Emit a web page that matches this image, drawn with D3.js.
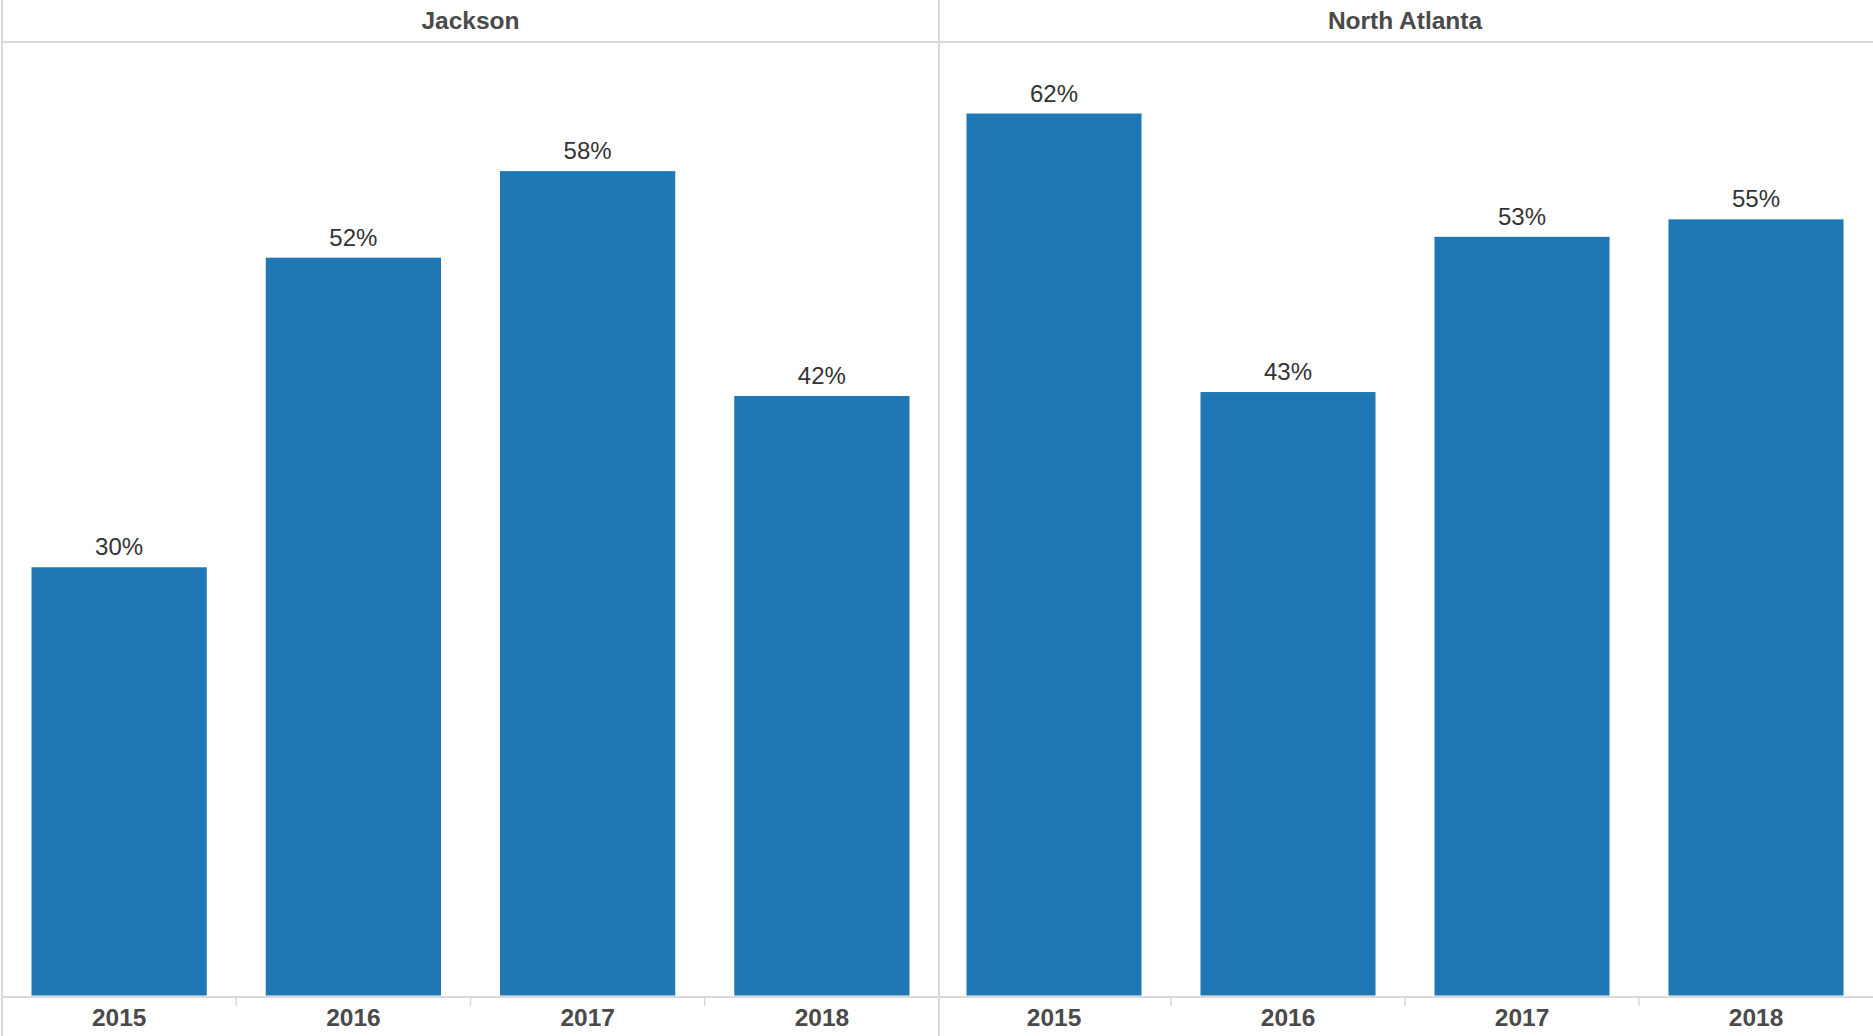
<!DOCTYPE html>
<html>
<head>
<meta charset="utf-8">
<script src="https://cdn.jsdelivr.net/npm/d3@7"></script>
<style>
  html, body { margin: 0; padding: 0; background: #fff; }
  svg { display: block; }
  text { font-family: Arial, "Liberation Sans", sans-serif; }
</style>
</head>
<body>
<svg id="chart" width="1873" height="1036"></svg>
<script>
// ---- data ----
const panes = ["Jackson", "North Atlanta"];
const years = ["2015", "2016", "2017", "2018"];
const jacksonValues = [0.3018, 0.520, 0.581, 0.4225];
const northAtlantaValues = [0.6216, 0.4253, 0.5347, 0.547];
const paneValues = [jacksonValues, northAtlantaValues];
const yMax = 0.672;

// ---- layout ----
const W = 1873, H = 1036;
const leftX = 2, dividerX = 939, rightX = 1871;
const headerY = 42, baseY = 995.5, axisY = 997;
const grid = "#d9d9d9";
const barColor = "#1f77b4";

const svg = d3.select("#chart");

const paneScale = d3.scaleOrdinal().domain(panes).range([[leftX, dividerX], [dividerX - 2, W]]);
const y = d3.scaleLinear().domain([0, yMax]).range([baseY, headerY]);
const fmt = d3.format(".0%");

// frame lines
svg.append("line").attr("x1", leftX).attr("x2", leftX).attr("y1", 0).attr("y2", H)
  .attr("stroke", grid).attr("stroke-width", 2);
svg.append("line").attr("x1", dividerX).attr("x2", dividerX).attr("y1", 0).attr("y2", H)
  .attr("stroke", grid).attr("stroke-width", 2);
svg.append("line").attr("x1", leftX).attr("x2", W).attr("y1", headerY).attr("y2", headerY)
  .attr("stroke", grid).attr("stroke-width", 2);
svg.append("line").attr("x1", leftX).attr("x2", W).attr("y1", axisY).attr("y2", axisY)
  .attr("stroke", grid).attr("stroke-width", 2);

panes.forEach((p, pi) => {
  const [x0, x1] = paneScale(p);
  const x = d3.scaleBand().domain(years).range([x0, x1]).paddingInner(0.252).paddingOuter(0.126);
  const g = svg.append("g");

  // header
  g.append("text")
    .attr("x", (x0 + x1) / 2).attr("y", 20)
    .attr("text-anchor", "middle").attr("dominant-baseline", "central")
    .attr("font-size", 24.5).attr("font-weight", "bold").attr("fill", "#4a4a4a")
    .text(p);

  const data = years.map((yr, i) => ({ yr, v: paneValues[pi][i] }));

  g.selectAll("rect.bar").data(data).join("rect")
    .attr("class", "bar")
    .attr("x", d => x(d.yr))
    .attr("width", x.bandwidth())
    .attr("y", d => y(d.v))
    .attr("height", d => y(0) - y(d.v))
    .attr("fill", barColor);

  g.selectAll("text.lbl").data(data).join("text")
    .attr("class", "lbl")
    .attr("x", d => x(d.yr) + x.bandwidth() / 2)
    .attr("y", d => y(d.v) - 12)
    .attr("text-anchor", "middle")
    .attr("font-size", 24).attr("fill", "#333")
    .text(d => fmt(d.v));

  // band boundary ticks
  const step = x.step();
  const bounds = years.slice(1).map((yr) => x(yr) - (step - x.bandwidth()) / 2);
  g.selectAll("line.tk").data(bounds).join("line")
    .attr("class", "tk")
    .attr("x1", d => d).attr("x2", d => d)
    .attr("y1", axisY).attr("y2", axisY + 9)
    .attr("stroke", grid).attr("stroke-width", 1.5);

  // year axis labels
  const axis = d3.axisBottom(x).tickSize(0).tickPadding(0);
  const ag = g.append("g").attr("transform", `translate(0,${axisY})`).call(axis);
  ag.select(".domain").remove();
  ag.selectAll("text")
    .attr("y", 20).attr("dy", "0.35em")
    .attr("font-size", 24.5).attr("font-weight", "bold").attr("fill", "#4a4a4a")
    .style("font-family", "Arial, 'Liberation Sans', sans-serif");
});
</script>
</body>
</html>
